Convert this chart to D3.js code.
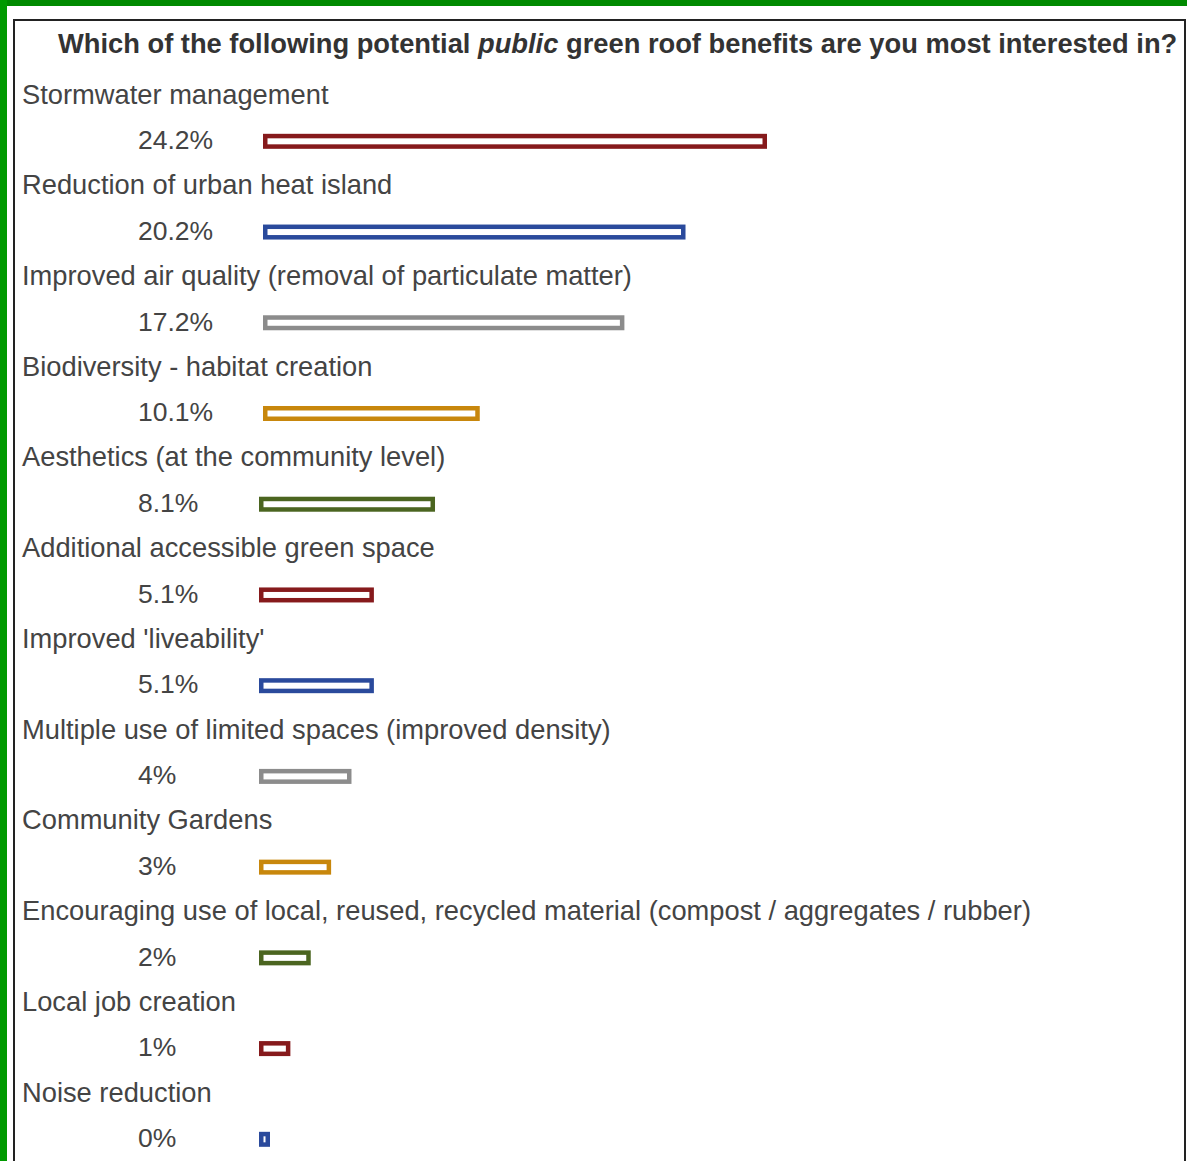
<!DOCTYPE html>
<html>
<head>
<meta charset="utf-8">
<script src="https://cdn.jsdelivr.net/npm/d3@7/dist/d3.min.js"></script>
<style>
  html, body { margin: 0; padding: 0; background: #fff; }
  svg { display: block; }
</style>
</head>
<body>
<svg id="chart" width="1187" height="1161"></svg>
<script>
const titleParts = ["Which of the following potential ", "public", " green roof benefits are you most interested in?"];
const categories = [
  "Stormwater management",
  "Reduction of urban heat island",
  "Improved air quality (removal of particulate matter)",
  "Biodiversity - habitat creation",
  "Aesthetics (at the community level)",
  "Additional accessible green space",
  "Improved 'liveability'",
  "Multiple use of limited spaces (improved density)",
  "Community Gardens",
  "Encouraging use of local, reused, recycled material (compost / aggregates / rubber)",
  "Local job creation",
  "Noise reduction"
];
const values = [24.2, 20.2, 17.2, 10.1, 8.1, 5.1, 5.1, 4, 3, 2, 1, 0];
const valueLabels = ["24.2%", "20.2%", "17.2%", "10.1%", "8.1%", "5.1%", "5.1%", "4%", "3%", "2%", "1%", "0%"];
const colors = ["#861a1c", "#2a4a9c", "#8c8c8c", "#c8870c", "#4b6520"];

const svg = d3.select("#chart");
const W = 1187, H = 1161;
const font = "'Liberation Sans', Arial, Helvetica, sans-serif";

// outer green frame
svg.append("rect").attr("x", 0).attr("y", 0).attr("width", W).attr("height", 6).attr("fill", "#008a00");
svg.append("rect").attr("x", 0).attr("y", 0).attr("width", 7).attr("height", H).attr("fill", "#009a00");
// inner black frame
svg.append("rect").attr("x", 14).attr("y", 20).attr("width", 1171).attr("height", H + 20)
  .attr("fill", "none").attr("stroke", "#222").attr("stroke-width", 2);

// title
const title = svg.append("text")
  .attr("x", 58).attr("y", 43).attr("dy", "0.35em")
  .attr("font-family", font).attr("font-size", 27.3).attr("font-weight", "bold")
  .attr("fill", "#333");
titleParts.forEach((p, i) => {
  title.append("tspan").text(p).attr("font-style", i === 1 ? "italic" : "normal");
});

const yLabel = d3.scalePoint().domain(categories).range([94, 1092]);
const rowGap = yLabel.step() / 2;
const x = d3.scaleLinear().domain([0, d3.max(values)]).range([11, 504]);

const rows = svg.append("g").selectAll("g").data(categories).join("g");

rows.append("text")
  .attr("x", 22).attr("y", d => yLabel(d)).attr("dy", "0.35em")
  .attr("font-family", font).attr("font-size", 27.3).attr("fill", "#444")
  .text(d => d);

const valTexts = rows.append("text")
  .attr("x", 138).attr("y", d => yLabel(d) + rowGap * 1.01).attr("dy", "0.35em")
  .attr("font-family", font).attr("font-size", 26.5).attr("fill", "#444")
  .text((d, i) => valueLabels[i]);

const sw = 4.5, bh = 10.5;
rows.each(function(d, i) {
  const t = valTexts.nodes()[i];
  const endX = 138 + t.getComputedTextLength();
  const start = Math.max(259, Math.round(endX + 50));
  const w = x(values[i]);
  d3.select(this).append("rect")
    .attr("x", start + sw / 2)
    .attr("y", yLabel(d) + rowGap * 1.01 + 1.5 - bh / 2)
    .attr("width", Math.max(w - sw, 1))
    .attr("height", bh)
    .attr("fill", "#fff")
    .attr("stroke", colors[i % colors.length])
    .attr("stroke-width", sw);
});
</script>
</body>
</html>
